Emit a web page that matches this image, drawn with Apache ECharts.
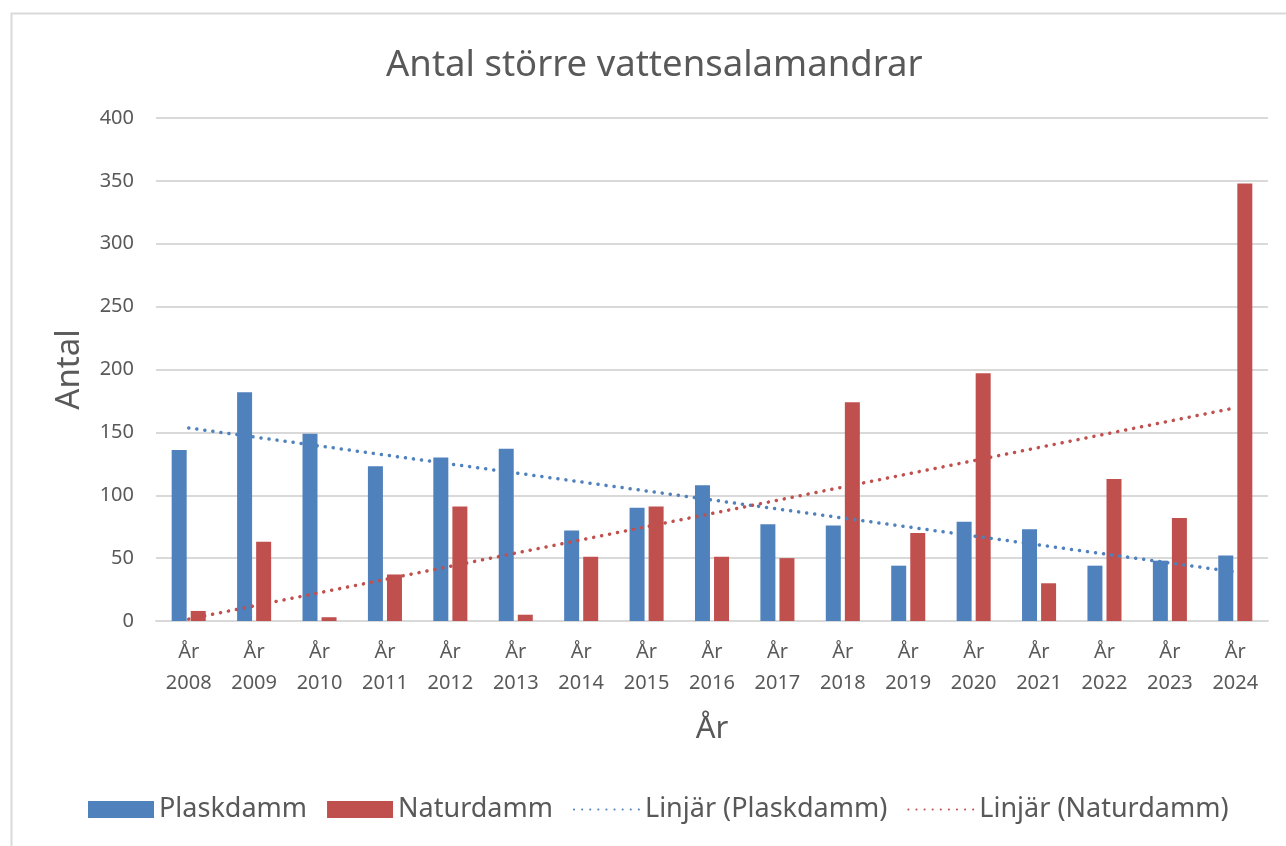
<!DOCTYPE html>
<html>
<head>
<meta charset="utf-8">
<script src="https://cdn.jsdelivr.net/npm/echarts@6/dist/echarts.min.js"></script>
<style>
  html, body { margin: 0; padding: 0; background: #fff; }
  #chart { width: 1286px; height: 846px; }
</style>
</head>
<body>
<div id="chart"></div>
<script>
// data
const years = ["2008", "2009", "2010", "2011", "2012", "2013", "2014", "2015", "2016",
    "2017", "2018", "2019", "2020", "2021", "2022", "2023", "2024"]
const plaskdamm = [136, 182, 149, 123, 130, 137, 72, 90, 108, 77, 76, 44, 79, 73, 44, 48, 52]
const naturdamm = [8, 63, 3, 37, 91, 5, 51, 91, 51, 50, 174, 70, 197, 30, 113, 82, 348]
// trendlinjernas ändpunkter (avlästa)
const plaskTrendEnds = [153.5, 39]
const naturTrendEnds = [1.5, 169.5]
const yTicks = { min: 0, max: 400, interval: 50 }

const textColor = "#595959"
const font = "Noto Sans"
const blue = "#4f81bd"
const red = "#c0504d"

function trend(ends) {
    return years.map((y, i) => (i === 0 ? ends[0] : i === years.length - 1 ? ends[1] : null))
}

const chart = echarts.init(document.getElementById("chart"), null, { renderer: "canvas" })

const trendStyle = (color) => ({
    color,
    width: 3.5,
    type: [0.1, 8],
    cap: "round",
})

// legend: linjeposter utan cirkelsymbol
const hiddenSymbol = { color: "transparent", borderWidth: 0 }

chart.setOption({
    animation: false,
    textStyle: { fontFamily: font, color: textColor },
    graphic: [
        {
            type: "rect",
            shape: { x: 11.5, y: 13.5, width: 1400, height: 1000 },
            style: { fill: "none", stroke: "#d9d9d9", lineWidth: 2 },
            z: -1,
        },
    ],
    title: {
        text: "Antal större vattensalamandrar",
        left: 381,
        top: 42,
        textStyle: { fontFamily: font, fontSize: 36.5, fontWeight: "normal", color: textColor },
    },
    grid: { left: 156, right: 18, top: 118, bottom: 225 },
    legend: {
        bottom: 18,
        left: 83,
        itemWidth: 66,
        itemHeight: 17,
        itemGap: 20,
        textStyle: { fontFamily: font, fontSize: 27, color: textColor },
        data: [
            { name: "Plaskdamm", icon: "rect" },
            { name: "Naturdamm", icon: "rect" },
            { name: "Linjär (Plaskdamm)", itemStyle: hiddenSymbol },
            { name: "Linjär (Naturdamm)", itemStyle: hiddenSymbol },
        ],
    },
    xAxis: {
        type: "category",
        data: years,
        name: "År",
        nameLocation: "middle",
        nameGap: 93,
        nameTextStyle: { fontFamily: font, fontSize: 31, color: textColor },
        axisLine: { lineStyle: { color: "#d9d9d9", width: 2 } },
        axisTick: { show: false },
        axisLabel: {
            formatter: (v) => "År\n" + v,
            fontFamily: font,
            fontSize: 20,
            lineHeight: 31,
            color: textColor,
            margin: 16,
            interval: 0,
        },
    },
    yAxis: {
        type: "value",
        min: yTicks.min,
        max: yTicks.max,
        interval: yTicks.interval,
        name: "Antal",
        nameLocation: "middle",
        nameGap: 70,
        nameTextStyle: { fontFamily: font, fontSize: 33, color: textColor },
        axisLine: { show: false },
        axisTick: { show: false },
        axisLabel: { fontFamily: font, fontSize: 20, color: textColor, margin: 22 },
        splitLine: { lineStyle: { color: "#d9d9d9", width: 2 } },
    },
    series: [
        {
            name: "Plaskdamm",
            type: "bar",
            data: plaskdamm,
            barWidth: 15,
            barGap: "27%",
            itemStyle: { color: blue },
        },
        {
            name: "Naturdamm",
            type: "bar",
            data: naturdamm,
            barWidth: 15,
            barGap: "27%",
            itemStyle: { color: red },
        },
        {
            name: "Linjär (Plaskdamm)",
            type: "line",
            data: trend(plaskTrendEnds),
            connectNulls: true,
            symbol: "none",
            itemStyle: { color: blue },
            lineStyle: trendStyle(blue),
            z: 5,
        },
        {
            name: "Linjär (Naturdamm)",
            type: "line",
            data: trend(naturTrendEnds),
            connectNulls: true,
            symbol: "none",
            itemStyle: { color: red },
            lineStyle: trendStyle(red),
            z: 5,
        },
    ],
})
</script>
</body>
</html>
